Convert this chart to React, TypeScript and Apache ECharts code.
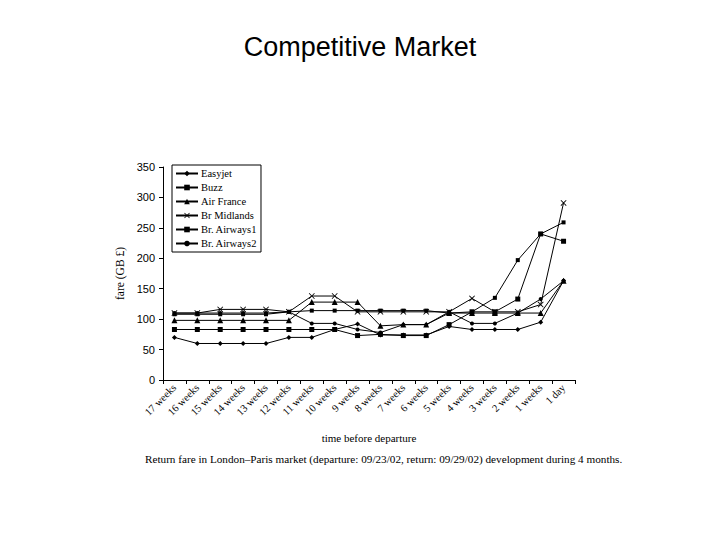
import React, { useEffect, useRef } from "react";
import * as echarts from "echarts";

const categories = [
  "17 weeks", "16 weeks", "15 weeks", "14 weeks", "13 weeks", "12 weeks",
  "11 weeks", "10 weeks", "9 weeks", "8 weeks", "7 weeks", "6 weeks",
  "5 weeks", "4 weeks", "3 weeks", "2 weeks", "1 weeks", "1 day",
];

const easyjet = [70, 60, 60, 60, 60, 70, 70, 83, 92, 74, 74, 74, 88, 83, 83, 83, 95, 163];
const buzz = [83, 83, 83, 83, 83, 83, 83, 83, 73, 75, 73, 73, 91, 112, 112, 133, 240, 228];
const airFrance = [98, 98, 98, 98, 98, 98, 128, 128, 128, 89, 91, 91, 110, 110, 110, 110, 110, 163];
const brMidlands = [110, 110, 116, 116, 116, 112, 138, 138, 112, 112, 112, 112, 112, 134, 112, 112, 124, 291];
const brAirways1 = [108, 108, 108, 108, 108, 112, 114, 114, 114, 114, 114, 114, 110, 112, 135, 197, 240, 259];
const brAirways2 = [110, 110, 110, 110, 110, 112, 93, 93, 83, 78, 91, 91, 112, 93, 93, 110, 133, 163];

const yTicks = [0, 50, 100, 150, 200, 250, 300, 350];

const X_SYMBOL = "path://M0,1L1,0L5,4L9,0L10,1L6,5L10,9L9,10L5,6L1,10L0,9L4,5Z";

export default function App() {
  const ref = useRef<HTMLDivElement>(null);
  useEffect(() => {
    if (!ref.current) return;
    const chart = echarts.init(ref.current, undefined, { renderer: "svg" });
    const serif = "Liberation Serif";
    const mk = (name: string, data: number[], symbol: string, size: number) => ({
      name,
      type: "line",
      data,
      symbol,
      symbolSize: size,
      showSymbol: true,
      lineStyle: { color: "#000", width: 1 },
      itemStyle: { color: "#000" },
      emphasis: { disabled: true },
    });
    chart.setOption({
      animation: false,
      backgroundColor: "#fff",
      title: {
        text: "Competitive Market",
        left: "center",
        top: 28,
        textStyle: { fontFamily: "Liberation Sans", fontSize: 27, fontWeight: "normal", color: "#000" },
      },
      legend: {
        orient: "vertical",
        left: 172,
        top: 165,
        itemWidth: 22,
        itemHeight: 7,
        itemGap: 3,
        padding: [3, 4, 3, 3],
        borderColor: "#000",
        borderWidth: 1,
        backgroundColor: "#fff",
        textStyle: { fontFamily: serif, fontSize: 10.5, fontWeight: "normal", color: "#000", padding: [0, 0, 0, -2] },
        data: ["Easyjet", "Buzz", "Air France", "Br Midlands", "Br. Airways1", "Br. Airways2"],
      },
      grid: { left: 163, right: 145, top: 167, bottom: 160 },
      xAxis: {
        type: "category",
        data: categories,
        boundaryGap: true,
        name: "time before departure",
        nameLocation: "middle",
        nameGap: 52,
        nameTextStyle: { fontFamily: serif, fontSize: 11, color: "#000" },
        axisLine: { lineStyle: { color: "#000", width: 1 } },
        axisTick: { show: true, length: 4, lineStyle: { color: "#000" } },
        axisLabel: { rotate: 45, fontFamily: serif, fontSize: 10.5, color: "#000", margin: 6, interval: 0 },
        splitLine: { show: false },
      },
      yAxis: {
        type: "value",
        min: yTicks[0],
        max: yTicks[yTicks.length - 1],
        interval: 50,
        name: "fare (GB £)",
        nameLocation: "middle",
        nameGap: 30,
        nameTextStyle: { fontFamily: serif, fontSize: 11.5, color: "#000" },
        axisLine: { show: true, lineStyle: { color: "#000", width: 1 } },
        axisTick: { show: true, length: 4, lineStyle: { color: "#000" } },
        axisLabel: { fontFamily: "Liberation Sans", fontSize: 11, color: "#000", margin: 8 },
        splitLine: { show: false },
      },
      graphic: [
        {
          type: "text",
          left: 145,
          top: 453,
          style: {
            text: "Return fare in London\u2013Paris market (departure: 09/23/02, return: 09/29/02) development during 4 months.",
            fontFamily: serif,
            fontSize: 11.2,
            fontWeight: "normal",
            fill: "#000",
          },
        },
      ],
      series: [
        mk("Easyjet", easyjet, "diamond", 5),
        mk("Buzz", buzz, "rect", 5),
        mk("Air France", airFrance, "triangle", 6),
        mk("Br Midlands", brMidlands, X_SYMBOL, 6),
        mk("Br. Airways1", brAirways1, "rect", 4),
        mk("Br. Airways2", brAirways2, "circle", 4),
      ],
    });
    return () => chart.dispose();
  }, []);
  return <div ref={ref} style={{ position: "fixed", left: 0, top: 0, width: 720, height: 540 }} />;
}
